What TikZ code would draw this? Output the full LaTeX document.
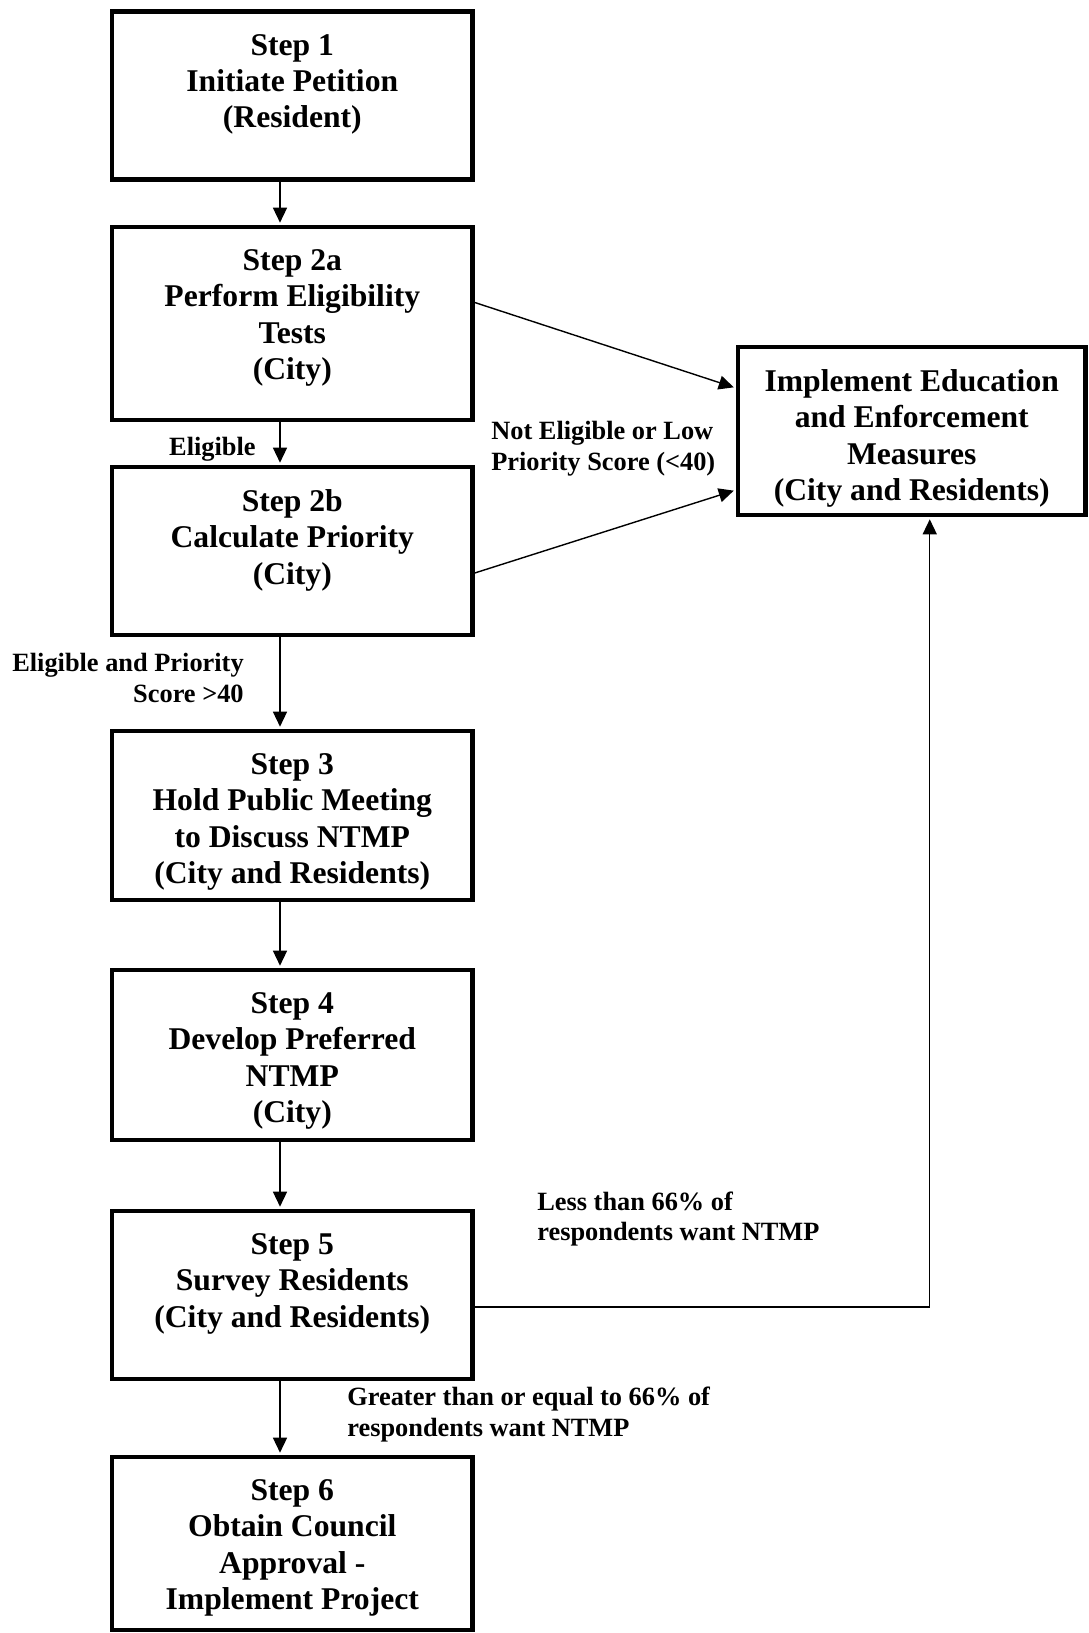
\documentclass[tikz,border=0pt]{standalone}
\usepackage{fontspec}
\setmainfont{Liberation Serif}
\usetikzlibrary{arrows.meta,positioning}

\begin{document}
\begin{tikzpicture}[
  stepbox/.style={draw, line width=2.5pt, minimum width=7.21cm, minimum height=3.36cm, inner sep=0pt},
  steptext/.style={align=center, inner sep=0pt, font=\fontsize{18}{20.7}\selectfont\bfseries},
  cond/.style={inner sep=0pt, font=\fontsize{15}{17.3}\selectfont\bfseries},
  arr/.style={-{Triangle[length=3mm,width=2.8mm]}, line width=0.8pt, shorten >=1.2pt}
]
\useasboundingbox (0,0) rectangle (21.76,-32.66);

% boxes
\node[stepbox] (s1) at (5.846,-1.91) {};
\node[stepbox, minimum height=3.86cm] (s2a) at (5.846,-6.47) {};
\node[stepbox] (s2b) at (5.846,-11.02) {};
\node[stepbox, minimum height=3.38cm] (s3) at (5.846,-16.31) {};
\node[stepbox, minimum height=3.40cm] (s4) at (5.846,-21.10) {};
\node[stepbox] (s5) at (5.846,-25.90) {};
\node[stepbox, minimum height=3.46cm] (s6) at (5.846,-30.87) {};
\node[stepbox, minimum width=6.95cm] (impl) at (18.235,-8.62) {};

% box texts
\node[steptext, below=0.49cm of s1.north] (t1) {Step 1\\Initiate Petition\\(Resident)};
\node[steptext, below=0.49cm of s2a.north] (t2a) {Step 2a\\Perform Eligibility\\Tests\\(City)};
\node[steptext, below=0.49cm of s2b.north] (t2b) {Step 2b\\Calculate Priority\\(City)};
\node[steptext, below=0.49cm of s3.north] (t3) {Step 3\\Hold Public Meeting\\to Discuss NTMP\\(City and Residents)};
\node[steptext, below=0.49cm of s4.north] (t4) {Step 4\\Develop Preferred\\NTMP\\(City)};
\node[steptext, below=0.49cm of s5.north] (t5) {Step 5\\Survey Residents\\(City and Residents)};
\node[steptext, below=0.49cm of s6.north] (t6) {Step 6\\Obtain Council\\Approval -\\Implement Project};
\node[steptext, below=0.49cm of impl.north] (timpl) {Implement Education\\and Enforcement\\Measures\\(City and Residents)};

% main line
\coordinate (ax) at (5.6,0);
\draw[arr] (s1.south -| ax) -- (s2a.north -| ax);
\draw[arr] (s2a.south -| ax) -- (s2b.north -| ax);
\draw[arr] (s2b.south -| ax) -- (s3.north -| ax);
\draw[arr] (s3.south -| ax) -- (s4.north -| ax);
\draw[arr] (s4.south -| ax) -- (s5.north -| ax);
\draw[arr] (s5.south -| ax) -- (s6.north -| ax);

% side branches
\draw[arr] ([yshift=0.42cm]s2a.east) -- ([yshift=0.86cm]impl.west);
\draw[arr] ([yshift=-0.44cm]s2b.east) -- ([yshift=-1.18cm]impl.west);
\draw[arr] ([yshift=-0.24cm]s5.east) -| ([xshift=0.36cm]impl.south);

% conditions
\node[cond, anchor=east] (celig) at (5.12,-8.98) {Eligible};
\node[cond, anchor=west, align=left] (cnot) at (9.82,-8.97) {Not Eligible or Low\\Priority Score (<40)};
\node[cond, anchor=east, align=right] (cprio) at (4.88,-13.56) {Eligible and Priority\\Score >40};
\node[cond, anchor=west, align=left] (cless) at (10.74,-24.38) {Less than 66\% of\\respondents want NTMP};
\node[cond, anchor=west, align=left] (cmore) at (6.94,-28.29) {Greater than or equal to 66\% of\\respondents want NTMP};

\end{tikzpicture}
\end{document}
